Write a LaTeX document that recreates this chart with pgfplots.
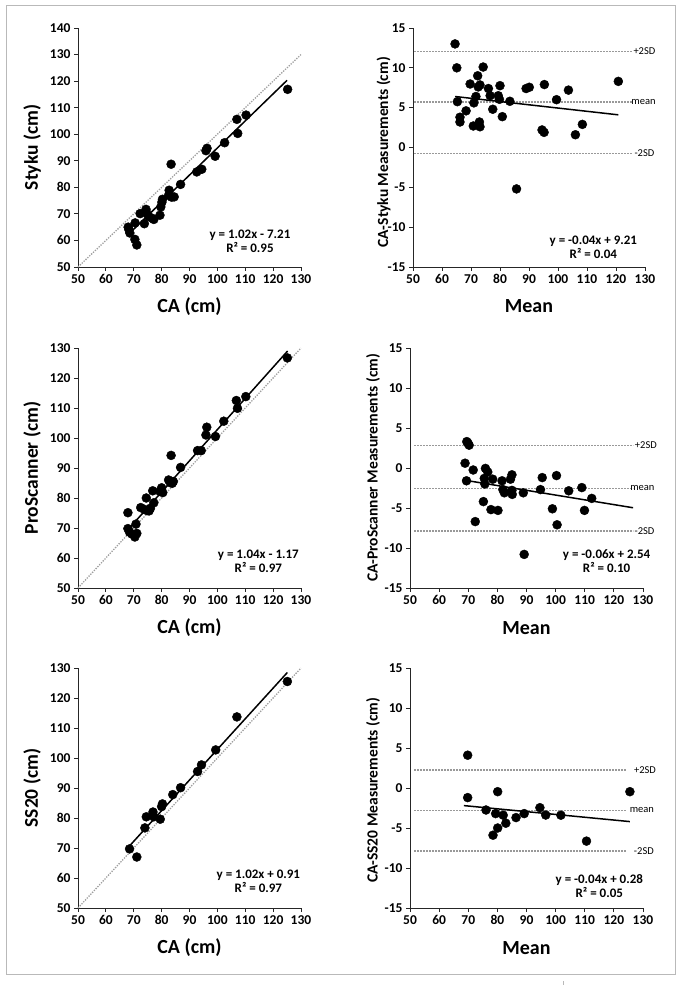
\documentclass[border=0pt]{standalone}
\usepackage{fontspec}
\setmainfont{Carlito}
\usepackage{pgfplots}
\pgfplotsset{compat=1.18}

\pgfplotsset{
  panel/.style={
    scale only axis,
    axis x line*=bottom, axis y line*=left,
    tick align=outside, major tick length=4pt,
    xmin=50, xmax=130, xtick={50,60,...,130},
    clip=false,
    axis line style={line width=0.9pt, black!85},
    tick style={line width=0.9pt, black!85},
    tick label style={font=\bfseries\fontsize{13.5}{13.5}\selectfont},
    /pgf/number format/assume math mode=true,
    xlabel style={at={(axis description cs:0.5,-0.165)}, anchor=center,
      font=\bfseries\fontsize{20}{20}\selectfont},
  },
  regr/.style={panel, width=223pt, height=239pt,
    ylabel style={at={(axis description cs:-0.206,0.5)}, anchor=center,
      font=\bfseries\fontsize{19.5}{20}\selectfont}},
  diff/.style={panel, width=233pt, height=239pt,
    ymin=-15, ymax=15, ytick={-15,-10,...,15},
    ylabel style={anchor=center,
      font=\bfseries\fontsize{15.5}{16}\selectfont}},
  dots/.style={only marks, mark=*, mark size=4.5pt, black},
  fit/.style={black, line width=1.5pt},
  ident/.style={gray!75, line width=1.3pt, dash pattern=on 1.3pt off 1.3pt},
  sd/.style={gray!80, line width=1.6pt, dash pattern=on 1.5pt off 1.5pt},
}
\tikzset{
  eq/.style={font=\bfseries\fontsize{13}{14}\selectfont, align=center},
  sdlab/.style={font=\fontsize{10.5}{11}\selectfont},
}

\begin{document}
\begin{tikzpicture}
\useasboundingbox (0,0) rectangle (685pt,985pt);
\draw[gray!55, line width=1pt] (6pt,10pt) rectangle (675.5pt,979pt);
\draw[gray!55, line width=0.8pt] (563pt,0pt) -- (563pt,4pt);

% ---- Styku vs CA
\begin{axis}[regr, at={(78pt,718pt)},
    ymin=50, ymax=140, ytick={50,60,...,140},
    xlabel={CA (cm)}, ylabel={Styku (cm)}]
\addplot[ident] coordinates {(50,50) (130,130)};
\addplot[dots] coordinates {
  (68.0,65.0) (68.3,64.0) (68.6,62.8) (70.5,66.6) (70.4,60.4) (71.1,58.3)
  (72.3,70.1) (73.8,66.3) (74.4,71.7) (74.6,70.4) (75.3,69.1) (76.5,68.4)
  (77.2,67.9) (79.4,69.5) (79.7,72.6) (80.1,74.4) (80.3,75.5) (82.7,78.9)
  (82.5,77.0) (83.4,88.7) (83.6,76.3) (84.5,76.4) (86.8,81.1) (92.6,85.8)
  (94.4,86.8) (95.9,93.8) (96.3,94.7) (99.2,91.7) (102.6,96.8) (107.0,105.6)
  (107.3,100.3) (110.3,107.2) (125.2,116.9)};
\addplot[fit] coordinates {(68,62.2) (125,120.3)};
\node[eq] at (axis cs:111.7,59.6) {y = 1.02x - 7.21\\R² = 0.95};
\end{axis}

% ---- CA-Styku vs mean
\begin{axis}[diff, at={(413pt,718pt)}, width=232pt,
    xlabel={Mean}, ylabel={CA-Styku Measurements (cm)},
    ylabel style={at={(axis description cs:-0.127,0.48)}}]
\addplot[sd] coordinates {(50.5,12.07) (125.4,12.07)};
\addplot[sd] coordinates {(50.5,5.71) (125.4,5.71)};
\addplot[sd] coordinates {(50.5,-0.77) (125.4,-0.77)};
\node[sdlab] at (axis cs:129.8,12.07) {+2SD};
\node[sdlab] at (axis cs:129.5,5.71) {mean};
\node[sdlab] at (axis cs:129.8,-0.77) {-2SD};
\addplot[dots] coordinates {
  (64.5,13.0) (65.1,10.0) (65.3,5.75) (66.2,3.8) (66.2,3.2) (68.3,4.6)
  (69.7,7.97) (71.0,5.6) (70.8,2.7) (71.7,6.4) (72.3,9.0) (72.5,7.6)
  (73.1,7.85) (72.9,3.2) (73.1,2.6) (74.2,10.1) (76.0,7.4) (76.6,6.5)
  (77.5,4.8) (79.4,6.5) (79.8,6.05) (80.0,7.76) (80.8,3.87) (83.4,5.8)
  (85.7,-5.2) (89.0,7.4) (90.1,7.56) (94.5,2.2) (95.2,1.9) (95.3,7.9)
  (99.5,6.0) (103.6,7.2) (106.0,1.6) (108.4,2.9) (120.8,8.3)};
\addplot[fit] coordinates {(64.5,6.4) (120.8,4.1)};
\node[eq] at (axis cs:112.2,-12.5) {y = -0.04x + 9.21\\R² = 0.04};
\end{axis}

% ---- ProScanner vs CA
\begin{axis}[regr, at={(78pt,397pt)}, height=240pt,
    ymin=50, ymax=130, ytick={50,60,...,130},
    xlabel={CA (cm)}, ylabel={ProScanner (cm)}]
\addplot[ident] coordinates {(50,50) (130,130)};
\addplot[dots] coordinates {
  (67.9,75.1) (67.9,69.8) (68.5,68.6) (69.3,68.0) (70.4,67.0) (70.8,71.3)
  (71.1,68.2) (72.5,76.8) (73.8,76.2) (74.5,80.0) (74.8,75.8) (75.5,75.7)
  (76.0,76.6) (76.8,82.4) (77.2,78.4) (79.4,82.2) (80.0,83.4) (80.4,81.8)
  (82.5,86.0) (83.1,85.1) (83.4,94.2) (83.8,84.9) (84.2,85.5) (86.8,90.2)
  (92.9,95.8) (94.2,95.8) (95.9,101.0) (96.2,103.6) (99.3,100.5) (102.3,105.6)
  (106.8,112.5) (107.2,109.9) (110.2,113.8) (125.1,126.7)};
\addplot[fit] coordinates {(67.5,69.0) (125.2,129.0)};
\node[eq] at (axis cs:114.7,58.8) {y = 1.04x - 1.17\\R² = 0.97};
\end{axis}

% ---- CA-ProScanner vs mean
\begin{axis}[diff, at={(410pt,397pt)}, height=240pt,
    xlabel={Mean}, ylabel={CA-ProScanner Measurements (cm)},
    ylabel style={at={(axis description cs:-0.159,0.5)}}]
\addplot[sd] coordinates {(51.5,2.8) (126.7,2.8)};
\addplot[sd] coordinates {(51.5,-2.55) (126.7,-2.55)};
\addplot[sd] coordinates {(51.5,-7.86) (126.7,-7.86)};
\node[sdlab] at (axis cs:131,2.8) {+2SD};
\node[sdlab] at (axis cs:129.8,-2.55) {mean};
\node[sdlab] at (axis cs:130.5,-7.86) {-2SD};
\addplot[dots] coordinates {
  (69.5,3.3) (69.9,3.1) (70.3,2.85) (68.9,0.6) (69.4,-1.6) (71.7,-0.25)
  (72.4,-6.7) (75.2,-4.2) (75.5,-1.3) (75.7,-2.0) (75.9,-0.05) (76.7,-0.5)
  (77.8,-5.2) (78.4,-1.4) (80.2,-5.3) (81.6,-1.6) (81.9,-2.7) (82.4,-3.1)
  (84.5,-1.4) (85.0,-0.85) (85.0,-2.8) (85.1,-3.3) (88.9,-3.1) (89.2,-10.8)
  (94.8,-2.7) (95.4,-1.2) (98.9,-5.1) (100.3,-0.95) (100.5,-7.1) (104.5,-2.85)
  (109.0,-2.45) (109.9,-5.3) (112.4,-3.8)};
\addplot[fit] coordinates {(69.2,-1.55) (126.6,-4.97)};
\node[eq] at (axis cs:117.5,-11.7) {y = -0.06x + 2.54\\R² = 0.10};
\end{axis}

% ---- SS20 vs CA
\begin{axis}[regr, at={(78pt,77pt)}, height=240pt,
    ymin=50, ymax=130, ytick={50,60,...,130},
    xlabel={CA (cm)}, ylabel={SS20 (cm)}]
\addplot[ident] coordinates {(50,50) (130,130)};
\addplot[dots] coordinates {
  (68.5,69.7) (71.1,67.0) (74.0,76.7) (74.5,80.4) (76.9,82.0) (77.2,80.4)
  (79.5,79.6) (80.0,83.8) (80.3,84.7) (84.0,87.8) (86.8,90.1) (92.9,95.5)
  (94.3,97.7) (99.4,102.7) (107.0,113.7) (125.1,125.5)};
\addplot[fit] coordinates {(68.5,70.7) (125.1,128.5)};
\node[eq] at (axis cs:114.7,58.8) {y = 1.02x + 0.91\\R² = 0.97};
\end{axis}

% ---- CA-SS20 vs mean
\begin{axis}[diff, at={(410pt,77pt)}, height=240pt,
    xlabel={Mean}, ylabel={CA-SS20 Measurements (cm)},
    ylabel style={at={(axis description cs:-0.159,0.49)}}]
\addplot[sd] coordinates {(51.5,2.26) (124.2,2.26)};
\addplot[sd] coordinates {(51.5,-2.8) (124.2,-2.8)};
\addplot[sd] coordinates {(51.5,-7.86) (124.2,-7.86)};
\node[sdlab] at (axis cs:130.7,2.26) {+2SD};
\node[sdlab] at (axis cs:129.6,-2.8) {mean};
\node[sdlab] at (axis cs:130.3,-7.86) {-2SD};
\addplot[dots] coordinates {
  (69.8,4.1) (69.8,-1.2) (76.1,-2.75) (78.5,-5.9) (79.4,-3.2) (80.1,-0.46)
  (80.1,-5.0) (82.0,-3.4) (82.9,-4.4) (86.4,-3.7) (89.2,-3.2) (94.6,-2.46)
  (96.6,-3.38) (101.8,-3.4) (110.6,-6.64) (125.5,-0.46)};
\addplot[fit] coordinates {(68.5,-2.2) (125.5,-4.2)};
\node[eq] at (axis cs:115,-12.2) {y = -0.04x + 0.28\\R² = 0.05};
\end{axis}
\end{tikzpicture}
\end{document}
